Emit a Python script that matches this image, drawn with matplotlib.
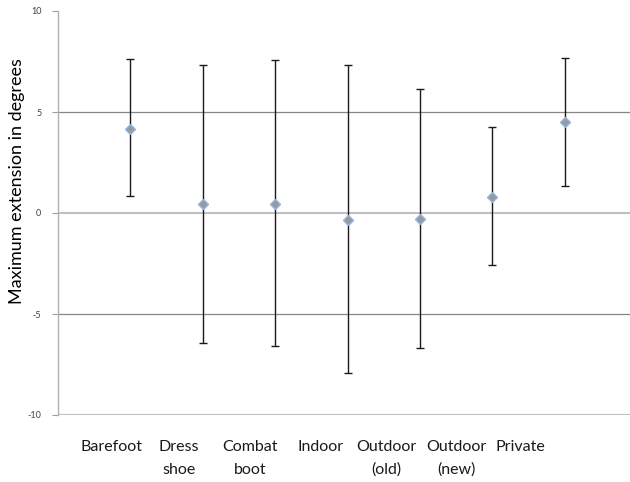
import matplotlib
matplotlib.use("Agg")
import matplotlib.pyplot as plt

plt.rcParams['font.family'] = ['Lato', 'DejaVu Sans']

# data
categories = ["Barefoot", "Dress\nshoe", "Combat\nboot", "Indoor",
              "Outdoor\n(old)", "Outdoor\n(new)", "Private"]
means = [4.18, 0.45, 0.45, -0.33, -0.28, 0.80, 4.51]
upper = [7.61, 7.35, 7.58, 7.31, 6.14, 4.25, 7.66]
lower = [0.82, -6.42, -6.60, -7.91, -6.68, -2.57, 1.34]

# hand-placed category text (centre, in data units)
label_x = [0.74, 1.67, 2.65, 3.62, 4.53, 5.50, 6.38]

fig = plt.figure(figsize=(6.3, 4.82), dpi=100)
ax = fig.add_axes([58 / 630, 1 - 415 / 482, 1 - 58 / 630, (415 - 11) / 482])

x = list(range(1, len(means) + 1))
err_lo = [m - l for m, l in zip(means, lower)]
err_hi = [u - m for m, u in zip(means, upper)]

# horizontal reference lines
for yv in [5, -5]:
    ax.axhline(yv, color='#868686', lw=0.9, zorder=1)
for yv in [0, -10]:
    ax.axhline(yv, color='#c0c0c0', lw=1.5, zorder=1)

ax.errorbar(x, means, yerr=[err_lo, err_hi], fmt='none', ecolor='#1a1a1a',
            elinewidth=1.0, capsize=3.2, capthick=1.0, zorder=2)
ax.plot(x, means, ls='none', marker='D', markersize=5.2,
        markerfacecolor='#9a9a9a', markeredgecolor='#8eb4e3',
        markeredgewidth=1.0, zorder=3)

ax.set_xlim(0, 572 / 72.4)
ax.set_ylim(-10, 10)
ax.set_yticks([-10, -5, 0, 5, 10])
ax.set_yticklabels(["-10", "-5", "0", "5", "10"], fontsize=6.5, color='#404040')
ax.tick_params(axis='y', direction='out', length=4, color='#a0a0a0', pad=8)
ax.set_xticks([])

for s in ['top', 'right', 'bottom']:
    ax.spines[s].set_visible(False)
ax.spines['left'].set_color('#b0b0b0')
ax.spines['left'].set_linewidth(1.0)

for lx, lab in zip(label_x, categories):
    ax.text(lx, -11.25, lab, ha='center', va='top', fontsize=11.5,
            color='#1a1a1a', linespacing=1.75, transform=ax.transData,
            clip_on=False)

fig.text(17 / 630, 1 - 181 / 482, "Maximum extension in degrees",
         rotation=90, ha='center', va='center', fontsize=13, color='#000000')

fig.savefig("out.png", dpi=100)
